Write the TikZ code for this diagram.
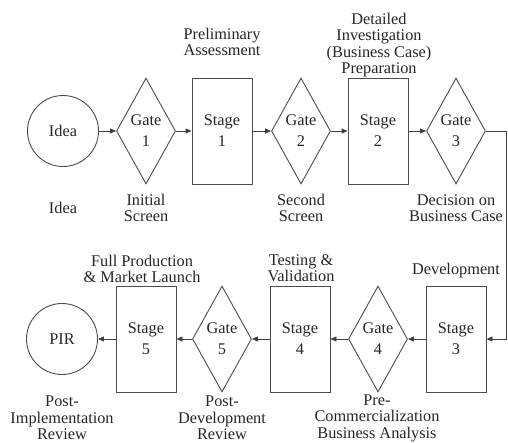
\documentclass[tikz,border=0pt]{standalone}
\usepackage{fontspec}
\setmainfont{LiberationSerif}[Extension=.ttf, UprightFont=*-Regular, BoldFont=*-Bold]
\usetikzlibrary{shapes.geometric,arrows.meta}
\begin{document}
\begin{tikzpicture}[x=1pt,y=-1pt,
  every node/.style={text=black!85, font=\fontsize{16.3}{16.5}\selectfont, align=center},
  shp/.style={draw=black!70, line width=0.9pt, inner sep=0pt},
  stagebox/.style={shp, rectangle, minimum width=60pt, minimum height=106pt, font=\fontsize{16.3}{21}\selectfont},
  gatebox/.style={shp, diamond, aspect=0.56, minimum width=59pt, minimum height=106pt, font=\fontsize{16.3}{21}\selectfont},
  endcirc/.style={shp, circle, minimum size=71pt},
  lbl/.style={inner sep=0pt},
  arr/.style={draw=black!75, line width=0.9pt, -{Triangle[length=6pt,width=5pt]}}
]
\useasboundingbox (0,0) rectangle (508,442);
% top row
\node[endcirc] (idea) at (63,131) {Idea};
\node[gatebox] (g1) at (146,131) {Gate\\1};
\node[stagebox] (s1) at (222,131) {Stage\\1};
\node[gatebox] (g2) at (301,131) {Gate\\2};
\node[stagebox] (s2) at (378,131) {Stage\\2};
\node[gatebox] (g3) at (456,131) {Gate\\3};
% bottom row
\node[endcirc] (pir) at (62,339) {PIR};
\node[stagebox] (s5) at (146,339) {Stage\\5};
\node[gatebox] (g5) at (222,339) {Gate\\5};
\node[stagebox] (s4) at (300,339) {Stage\\4};
\node[gatebox] (g4) at (378,339) {Gate\\4};
\node[stagebox] (s3) at (456,339) {Stage\\3};
% labels
\node[lbl] (l1) at (222,42) {Preliminary\\Assessment};
\node[lbl] (l2) at (379,45) {Detailed\\Investigation\\(Business Case)\\Preparation};
\node[lbl] (l3) at (63,208) {Idea};
\node[lbl] (l4) at (146,208) {Initial\\Screen};
\node[lbl] (l5) at (301,208) {Second\\Screen};
\node[lbl] (l6) at (456,208) {Decision on\\Business Case};
\node[lbl] (l7) at (142,269) {Full Production\\\& Market Launch};
\node[lbl] (l8) at (301,268) {Testing \&\\Validation};
\node[lbl] (l9) at (456,271) {Development};
\node[lbl] (l10) at (62,418) {Post-\\Implementation\\Review};
\node[lbl] (l11) at (222,418) {Post-\\Development\\Review};
\node[lbl] (l12) at (377,418) {Pre-\\Commercialization\\Business Analysis};
% connectors
\draw[arr] (idea) -- (g1);
\draw[arr] (g1) -- (s1);
\draw[arr] (s1) -- (g2);
\draw[arr] (g2) -- (s2);
\draw[arr] (s2) -- (g3);
\coordinate (rt) at (506.5,131);
\draw[arr] (g3.east) -- (rt) |- (s3.east);
\draw[arr] (s3) -- (g4);
\draw[arr] (g4) -- (s4);
\draw[arr] (s4) -- (g5);
\draw[arr] (g5) -- (s5);
\draw[arr] (s5) -- (pir);
\end{tikzpicture}
\end{document}
